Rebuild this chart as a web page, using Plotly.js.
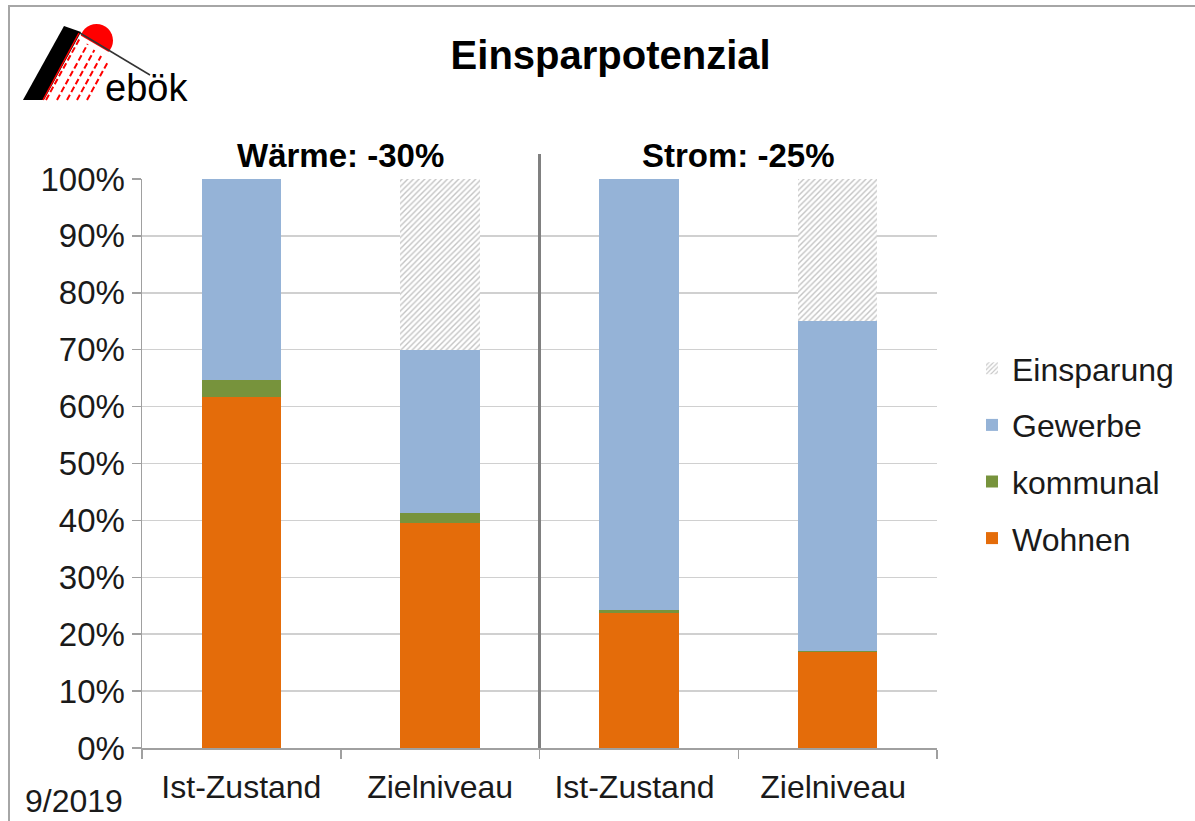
<!DOCTYPE html>
<html>
<head>
<meta charset="utf-8">
<script src="https://cdn.plot.ly/plotly-3.0.1.min.js"></script>
<style>
  html, body { margin: 0; padding: 0; background: #fff; }
  #frame { position: absolute; left: 8px; top: 5px; width: 1300px; height: 900px;
           border-left: 2px solid #a6a6a6; border-top: 2px solid #a6a6a6; }
  #chart { position: absolute; left: 0; top: 0; width: 1195px; height: 821px; }
</style>
</head>
<body>
<div id="frame"></div>
<div id="chart"></div>
<script>
// ---- data ----
const categories = ["Ist-Zustand", "Zielniveau", "Ist-Zustand ", "Zielniveau "];
const groupNames = ["Wärme", "Strom"];
const wohnen     = [61.7, 39.6, 23.8, 16.8];
const kommunal   = [2.9, 1.7, 0.4, 0.2];
const gewerbe    = [35.4, 28.7, 75.8, 58.0];
const einsparung = [0, 30, 0, 25];
const seriesNames = ["Wohnen", "kommunal", "Gewerbe", "Einsparung"];
const yTicks = [0, 10, 20, 30, 40, 50, 60, 70, 80, 90, 100];

// ---- layout helpers (pixel -> paper) ----
const W = 1195, H = 821;
const M = { l: 142, r: 258, t: 179, b: 73 };
const PW = W - M.l - M.r, PH = H - M.t - M.b;
const px = x => (x - M.l) / PW;
const py = y => (H - M.b - y) / PH;

const FONT = "Liberation Sans, Arial, sans-serif";

const colors = ["#e46c0a", "#77933c", "#95b3d7", "#ffffff"];
const seriesVals = [wohnen, kommunal, gewerbe, einsparung];

const traces = seriesVals.map((vals, i) => {
  const t = {
    type: "bar",
    name: seriesNames[i],
    x: categories,
    y: vals,
    legendgroup: "g" + i,
    legendrank: 10 - i,
    marker: { color: colors[i], line: { width: 0 } },
    hoverinfo: "name+y"
  };
  if (seriesNames[i] === "Einsparung") {
    t.marker.pattern = { shape: "/", fgcolor: "#c4c4c4", bgcolor: "#ffffff", size: 4, solidity: 0.35 };
  }
  return t;
});

// logo shapes (decoration)
const P = (x, y) => px(x).toFixed(4) + "," + py(y).toFixed(4);
const logoShapes = [
  { type: "circle", xref: "paper", yref: "paper", x0: px(80), x1: px(113), y0: py(57), y1: py(24),
    fillcolor: "#ff0000", line: { width: 0 }, layer: "above" },
  { type: "path", xref: "paper", yref: "paper", path: "M" + P(78, 34) + " L" + P(160, 82) + " L" + P(160, 110) + " L" + P(60, 110) + " Z",
    fillcolor: "#ffffff", line: { width: 0 }, layer: "above" }
];
[46, 57, 67, 77, 87].forEach((bx, k) => {
  const topY = 38 + k * 6;
  const dx = (100 - topY) * 40 / 73;
  logoShapes.push({ type: "line", xref: "paper", yref: "paper",
    x0: px(bx), y0: py(100), x1: px(bx + dx), y1: py(topY),
    line: { color: "#ff0000", width: 2, dash: "6px,3px" }, layer: "above" });
});
logoShapes.push(
  { type: "path", xref: "paper", yref: "paper", path: "M" + P(23, 100) + " L" + P(44, 100) + " L" + P(81, 32) + " L" + P(64, 26) + " Z",
    fillcolor: "#000000", line: { width: 0 }, layer: "above" },
  { type: "line", xref: "paper", yref: "paper", x0: px(43), y0: py(100), x1: px(79), y1: py(33),
    line: { color: "#ff0000", width: 1.5 }, layer: "above" },
  { type: "line", xref: "paper", yref: "paper", x0: px(80), y0: py(33), x1: px(150), y1: py(75),
    line: { color: "#333333", width: 1.5 }, layer: "above" }
);

const layout = {
  width: W, height: H,
  margin: M,
  paper_bgcolor: "rgba(0,0,0,0)",
  plot_bgcolor: "rgba(0,0,0,0)",
  font: { family: FONT, color: "#1a1a1a", size: 28 },
  barmode: "stack",
  bargap: 0.6,
  title: { text: "<b>Einsparpotenzial</b>", xref: "container", x: 0.511, xanchor: "center",
           yref: "container", y: 1 - 55 / H, yanchor: "middle",
           font: { family: FONT, size: 40, color: "#000" } },
  xaxis: {
    type: "category",
    categoryorder: "array", categoryarray: categories,
    tickson: "boundaries",
    ticks: "outside", ticklen: 9, tickwidth: 1.5, tickcolor: "#a0a0a0",
    showline: true, linecolor: "#a0a0a0", linewidth: 1.5,
    showgrid: false, zeroline: false,
    ticklabelstandoff: 10,
    tickfont: { family: FONT, size: 32, color: "#1a1a1a" }
  },
  yaxis: {
    range: [0, 100],
    tickvals: yTicks,
    ticktext: yTicks.map(v => v + "%"),
    ticks: "outside", ticklen: 9, tickwidth: 1.5, tickcolor: "#a0a0a0",
    showline: true, linecolor: "#a0a0a0", linewidth: 1.5,
    showgrid: true, gridcolor: "#d0d0d0", gridwidth: 1.5,
    zeroline: false,
    tickfont: { family: FONT, size: 33, color: "#1a1a1a" }
  },
  legend: {
    traceorder: "grouped",
    tracegroupgap: 12,
    x: px(972), xanchor: "left",
    y: py(341), yanchor: "top",
    font: { family: FONT, size: 32, color: "#1a1a1a" },
    bgcolor: "rgba(0,0,0,0)",
    itemclick: false
  },
  shapes: [
    { type: "line", xref: "x", yref: "paper", x0: 1.5, x1: 1.5, y0: 0, y1: py(154),
      line: { color: "#808080", width: 3 } }
  ].concat(logoShapes),
  annotations: [
    { xref: "x", yref: "paper", x: 0.5, y: py(155), yanchor: "middle", showarrow: false,
      text: "<b>" + groupNames[0] + ": -" + einsparung[1] + "%</b>",
      font: { family: FONT, size: 33, color: "#000" } },
    { xref: "x", yref: "paper", x: 2.5, y: py(155), yanchor: "middle", showarrow: false,
      text: "<b>" + groupNames[1] + ": -" + einsparung[3] + "%</b>",
      font: { family: FONT, size: 33, color: "#000" } },
    { xref: "paper", yref: "paper", x: px(74), y: py(801), xanchor: "center", yanchor: "middle", showarrow: false,
      text: "9/2019", font: { family: FONT, size: 32, color: "#1a1a1a" } },
    { xref: "paper", yref: "paper", x: px(146), y: py(88), xanchor: "center", yanchor: "middle", showarrow: false,
      text: "ebök", font: { family: FONT, size: 38, color: "#000" } }
  ]
};

Plotly.newPlot("chart", traces, layout, { displayModeBar: false, staticPlot: true });
</script>
</body>
</html>
